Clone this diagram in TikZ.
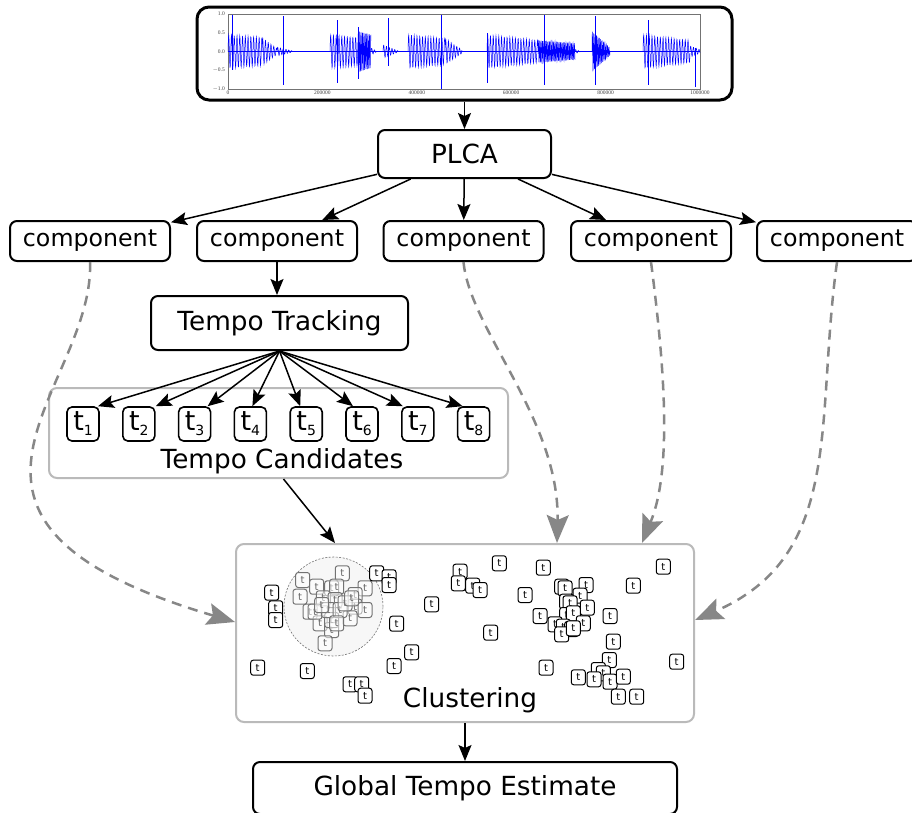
\documentclass[tikz,border=0pt]{standalone}
\usepackage{fontspec}
\setmainfont{DejaVu Sans}
\newfontfamily\axfont{Liberation Serif}
\usetikzlibrary{arrows.meta,calc}
\newcommand\wb[6]{\draw[wavel] plot[domain=0:#2-#1,samples=#6] ({#1+\x},{51.5-37*(#3+(#4-#3)*\x/(#2-#1))*sin(\x*#5)});}
\newcommand\spk[3]{\draw[wavel] (#1,{51.5-37*#2}) -- (#1,{51.5+37*#3});}
\begin{document}
\begin{tikzpicture}[x=1pt,y=-1pt,
  box/.style={draw=black,line width=2pt,rounded corners=7pt,fill=white,inner sep=0pt,font=\fontsize{26.3}{30}\selectfont},
  comp/.style={box,minimum width=160pt,minimum height=40pt,font=\fontsize{23.7}{28}\selectfont},
  gbox/.style={draw=black!27,line width=2pt,rounded corners=8pt,fill=white,inner sep=0pt},
  lbl/.style={inner sep=0pt,font=\fontsize{26.3}{30}\selectfont},
  tcand/.style={draw=black,line width=1.6pt,rounded corners=5pt,fill=white,minimum width=32pt,minimum height=34pt,inner sep=0pt,font=\fontsize{27}{30}\selectfont},
  ct/.style={draw=black,line width=1pt,rounded corners=2.5pt,fill=white,minimum width=14pt,minimum height=15pt,inner sep=0pt,font=\fontsize{10}{10}\selectfont},
  ctg/.style={ct,draw=black!55,text=black!60,fill opacity=0.5,text opacity=1},
  arr/.style={line width=1.5pt,-{Stealth[length=16pt,width=13pt,inset=3pt]}},
  dsh/.style={draw=black!47,line width=2.5pt,dash pattern=on 10pt off 7pt,-{Stealth[length=28pt,width=22pt,inset=5pt]}},
  wavel/.style={draw=blue,line width=0.5pt},
  axl/.style={inner sep=0pt,font={\axfont\fontsize{5.5}{6}\selectfont},text=black!75},
]
\useasboundingbox (0,0) rectangle (912,812);

% ---------- waveform ----------
\node[box,line width=3pt,rounded corners=12pt,minimum width=535pt,minimum height=93pt] (wave) at (464.5,53.5) {};
\draw[black!55,line width=0.4pt] (228,14) rectangle (700,89);
\foreach \v/\t [count=\i] in {14/1.0,32.75/0.5,51.5/0.0,70.25/{$-$0.5},89/{$-$1.0}}
  \node[axl,anchor=east] (yl\i) at (225,\v) {\t};
\foreach \x/\t [count=\i] in {228/0,322.4/200000,416.8/400000,511.2/600000,605.6/800000,700/1000000}
  \node[axl,anchor=north] (xl\i) at (\x,91) {\t};
\draw[wavel] (228,51.5) -- (700,51.5);
\wb{228}{262}{0.45}{0.38}{130}{140}
\wb{262}{277}{0.38}{0.08}{130}{60}
\wb{277}{292}{0.12}{0.02}{130}{60}
\wb{330}{358}{0.45}{0.38}{130}{112}
\wb{358}{371}{0.55}{0.45}{260}{100}
\wb{371}{376}{0.1}{0.02}{130}{20}
\wb{383}{398}{0.18}{0.02}{130}{60}
\wb{408}{445}{0.45}{0.35}{130}{150}
\wb{445}{462}{0.35}{0.05}{130}{70}
\wb{487}{538}{0.45}{0.3}{130}{200}
\wb{538}{575}{0.3}{0.22}{260}{260}
\wb{575}{580}{0.06}{0.01}{130}{20}
\wb{592}{610}{0.55}{0.1}{260}{130}
\wb{643}{690}{0.45}{0.3}{130}{190}
\wb{690}{700}{0.15}{0.05}{130}{40}
\spk{232}{1.0}{0.5}
\spk{283}{0.95}{0.9}
\spk{337}{0.85}{0.85}
\spk{358}{0.65}{0.75}
\spk{388}{0.9}{0.4}
\spk{441}{1.0}{1.0}
\spk{487}{0.5}{0.85}
\spk{544}{1.0}{0.9}
\spk{595}{0.95}{0.9}
\spk{648}{0.85}{0.9}
\spk{695}{0.1}{0.95}

% ---------- main nodes ----------
\node[box,minimum width=173pt,minimum height=48pt] (plca) at (464.5,154) {PLCA};
\foreach \x [count=\i] in {90,277,463.5,651,837}
  \node[comp] (c\i) at (\x,241) {component};
\node[box,minimum width=257pt,minimum height=54pt] (tt) at (279.5,323) {Tempo Tracking};
\node[gbox,minimum width=459pt,minimum height=90pt] (tc) at (278.5,433) {};
\node[lbl] (tcl) at (282,461) {Tempo Candidates};
\foreach \x [count=\i] in {83,138.8,194.6,250.4,306.2,362,417.8,473.6}
  \node[tcand] (t\i) at (\x,424) {t\raisebox{-5pt}{\fontsize{14}{14}\selectfont\i}};

% ---------- clustering ----------
\node[gbox,minimum width=458pt,minimum height=178pt] (clus) at (465,633) {};
\node[draw=black!55,line width=0.6pt,dash pattern=on 2pt off 1.5pt,fill=black!3,circle,minimum size=99pt,inner sep=0pt] (circ) at (333.5,606.5) {};
\foreach \p [count=\i] in {(342.3,573.3),(302.7,580),(316.7,586.7),(300,596.7),(365,588.3),(331.7,588.3),(336.7,586.7),(310,611.7),(323.3,598.3),(335,600),(355,595),(355,606.7),(365,610),(350,618.3),(320,623.3),(331.7,630),(331.7,620),(325,643.3),(315,611.7),(328.3,610),(340,610),(345,603.3),(321.7,605),(336.7,623.3),(351.7,598.3)}
  \node[ctg] (g\i) at \p {t};
\foreach \p [count=\i] in {(271.7,592.7),(275.7,608.3),(275.7,620),(257.7,667.7),(307.3,671),(376.7,573.3),(389,577.3),(389,585),(431.7,604.3),(396.7,623.7),(411.7,652.3),(394,666),(350,684.3),(361.7,684.3),(365,695.7),(460,571.7),(458.3,583.3),(499.3,563.3),(543.3,567.7),(663.3,566.7),(472.7,585.7),(480,590),(525,595),(561.7,586.7),(565,588.3),(586,585),(633.3,585.7),(580,595.7),(566.7,601.7),(570,603.3),(587.3,607.7),(540,616),(566.7,615),(573.3,613.3),(610,616),(555,624.3),(563.3,626.7),(571.7,629),(583.3,623.3),(561.7,634.3),(573.3,628.3),(490.7,632.7),(613.3,641.7),(609.3,660),(676.7,661.7),(546,667.7),(598.3,670),(603.3,673.3),(578.3,677.3),(594,679.3),(610,681.7),(623.3,676.7),(618.3,696.7),(636.7,696.7)}
  \node[ct] (k\i) at \p {t};
\node[lbl] (clusl) at (470,700) {Clustering};

\node[box,minimum width=424pt,minimum height=52pt] (gte) at (465,788) {Global Tempo Estimate};

% ---------- connectors ----------
\draw[arr] (wave.south) -- (plca.north);
\foreach \i in {1,...,5} \draw[arr] (plca) -- (c\i);
\draw[arr] (c2.south) -- (c2.south |- tt.north);
\foreach \i/\o in {1/15,2/17,3/13,4/2,5/-6,6/-9,7/-15,8/-11}
  \draw[arr] (tt.south) -- ([xshift=\o pt]t\i.north);
\draw[arr] ([xshift=5pt]tc.south) -- ([xshift=-130pt]clus.north);
\draw[arr] (clus.south) -- (gte.north);

\draw[dsh] (c1.south) .. controls (95,390) and (-110,520) .. ($(clus.west)+(0,-11)$);
\draw[dsh] (c3.south) .. controls (470,330) and (560,420) .. ($(clus.north)+(92,0)$);
\draw[dsh] (c4.south) .. controls (665,370) and (672,470) .. ($(clus.north)+(177,0)$);
\draw[dsh] (c5.south) .. controls (815,420) and (845,555) .. ($(clus.east)+(0,-13)$);
\end{tikzpicture}
\end{document}
